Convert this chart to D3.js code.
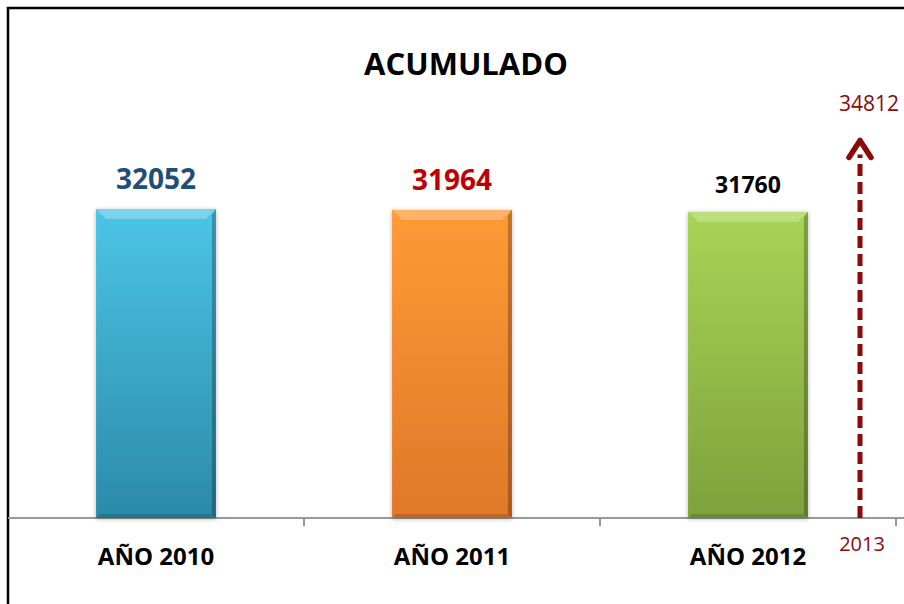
<!DOCTYPE html>
<html>
<head>
<meta charset="utf-8">
<script src="https://cdn.jsdelivr.net/npm/d3@7"></script>
<style>
  body { margin: 0; background: #fff; }
  text { font-family: "Open Sans", sans-serif; }
</style>
</head>
<body>
<script>
var categories = ["AÑO 2010", "AÑO 2011", "AÑO 2012"];
var values = [32052, 31964, 31760];
var labelColors = ["#1f4e79", "#c00000", "#000000"];
var topColors = ["#4cc5e6", "#ff9a35", "#a8d455"];
var bottomColors = ["#2b8aa8", "#e0782a", "#7da23c"];
var projYear = "2013";
var projValue = 34812;

var width = 904, height = 604;
var baseY = 518;

var svg = d3.select("body")
  .append("svg")
  .attr("width", width)
  .attr("height", height);

// frame (only top and left visible)
svg.append("rect")
  .attr("x", 8).attr("y", 8)
  .attr("width", 920).attr("height", 620)
  .attr("fill", "none")
  .attr("stroke", "#000")
  .attr("stroke-width", 2.5);

var x = d3.scaleBand()
  .domain(categories)
  .range([8, 896])
  .padding(0);

var y = d3.scaleLinear()
  .domain([0, projValue])
  .range([baseY, baseY - 309 / values[0] * projValue]);

var barW = x.bandwidth() * 0.405;

var defs = svg.append("defs");
categories.forEach(function (c, i) {
  var g = defs.append("linearGradient")
    .attr("id", "grad" + i)
    .attr("x1", 0).attr("y1", 0).attr("x2", 0).attr("y2", 1);
  g.append("stop").attr("offset", "0%").attr("stop-color", topColors[i]);
  g.append("stop").attr("offset", "100%").attr("stop-color", bottomColors[i]);
});
var sh = defs.append("filter").attr("id", "shadow")
  .attr("x", "-20%").attr("y", "-20%").attr("width", "140%").attr("height", "140%");
sh.append("feDropShadow").attr("dx", 0).attr("dy", 1).attr("stdDeviation", 2)
  .attr("flood-color", "#000").attr("flood-opacity", 0.3);

// axis
svg.append("line")
  .attr("x1", 8).attr("x2", width)
  .attr("y1", baseY).attr("y2", baseY)
  .attr("stroke", "#999").attr("stroke-width", 2);

var tickXs = categories.map(function (c) { return x(c) + x.bandwidth(); });
svg.selectAll(".tick")
  .data(tickXs)
  .enter()
  .append("line")
  .attr("x1", function (d) { return d; })
  .attr("x2", function (d) { return d; })
  .attr("y1", baseY).attr("y2", baseY + 8)
  .attr("stroke", "#999").attr("stroke-width", 2);

// bars
var bars = svg.selectAll(".bar")
  .data(values)
  .enter()
  .append("g")
  .attr("class", "bar")
  .attr("filter", "url(#shadow)");

bars.append("rect")
  .attr("x", function (d, i) { return x(categories[i]) + (x.bandwidth() - barW) / 2; })
  .attr("y", function (d) { return y(d); })
  .attr("width", barW)
  .attr("height", function (d) { return baseY - y(d); })
  .attr("fill", function (d, i) { return "url(#grad" + i + ")"; });

// bevel: top highlight and darker edges
var bev = 10;
bars.append("path")
  .attr("d", function (d, i) {
    var x0 = x(categories[i]) + (x.bandwidth() - barW) / 2, x1 = x0 + barW, y0 = y(d);
    return "M" + x0 + "," + y0 + "L" + x1 + "," + y0 + "L" + (x1 - bev) + "," + (y0 + bev) +
      "L" + (x0 + bev) + "," + (y0 + bev) + "Z";
  })
  .attr("fill", "#fff").attr("opacity", 0.25);
bars.append("path")
  .attr("d", function (d, i) {
    var x0 = x(categories[i]) + (x.bandwidth() - barW) / 2, x1 = x0 + barW, y0 = y(d);
    return "M" + x1 + "," + y0 + "L" + x1 + "," + baseY + "L" + (x1 - 4) + "," + (baseY - 4) +
      "L" + (x1 - 4) + "," + (y0 + 6) + "Z";
  })
  .attr("fill", "#000").attr("opacity", 0.25);
bars.append("path")
  .attr("d", function (d, i) {
    var x0 = x(categories[i]) + (x.bandwidth() - barW) / 2, x1 = x0 + barW;
    return "M" + x0 + "," + baseY + "L" + x1 + "," + baseY + "L" + (x1 - 4) + "," + (baseY - 4) +
      "L" + (x0 + 4) + "," + (baseY - 4) + "Z";
  })
  .attr("fill", "#000").attr("opacity", 0.15);

// value labels
svg.selectAll(".val")
  .data(values)
  .enter()
  .append("text")
  .attr("x", function (d, i) { return x(categories[i]) + x.bandwidth() / 2; })
  .attr("y", function (d, i) { return y(d) - (i === 2 ? 19 : 20); })
  .attr("text-anchor", "middle")
  .attr("font-weight", "bold")
  .attr("font-size", function (d, i) { return i === 2 ? 23 : 28; })
  .attr("fill", function (d, i) { return labelColors[i]; })
  .text(function (d) { return d; });

// category labels
svg.selectAll(".cat")
  .data(categories)
  .enter()
  .append("text")
  .attr("x", function (d) { return x(d) + x.bandwidth() / 2; })
  .attr("y", 565)
  .attr("text-anchor", "middle")
  .attr("font-weight", "bold")
  .attr("font-size", 24)
  .attr("fill", "#000")
  .text(function (d) { return d; });

// title
svg.append("text")
  .attr("x", 466).attr("y", 75)
  .attr("text-anchor", "middle")
  .attr("font-weight", "bold")
  .attr("font-size", 31)
  .text("ACUMULADO");

// projection arrow
var arrowX = x.range()[1] - 36;
var tipY = y(projValue) - 42;
var arrowColor = "#8b0a0a";
svg.append("line")
  .attr("x1", arrowX).attr("x2", arrowX)
  .attr("y1", baseY).attr("y2", tipY + 14)
  .attr("stroke", arrowColor)
  .attr("stroke-width", 5)
  .attr("stroke-dasharray", "12,6");
svg.append("path")
  .attr("d", "M" + (arrowX - 11) + "," + (tipY + 17) + "L" + arrowX + "," + tipY +
    "L" + (arrowX + 11) + "," + (tipY + 17))
  .attr("fill", "none")
  .attr("stroke", arrowColor)
  .attr("stroke-width", 5.5)
  .attr("stroke-linejoin", "round")
  .attr("stroke-linecap", "round");

svg.append("text")
  .attr("x", arrowX + 9).attr("y", 111)
  .attr("text-anchor", "middle")
  .attr("font-size", 21)
  .attr("fill", arrowColor)
  .text(projValue);
svg.append("text")
  .attr("x", arrowX + 2).attr("y", 551)
  .attr("text-anchor", "middle")
  .attr("font-size", 20)
  .attr("fill", arrowColor)
  .text(projYear);
</script>
</body>
</html>
